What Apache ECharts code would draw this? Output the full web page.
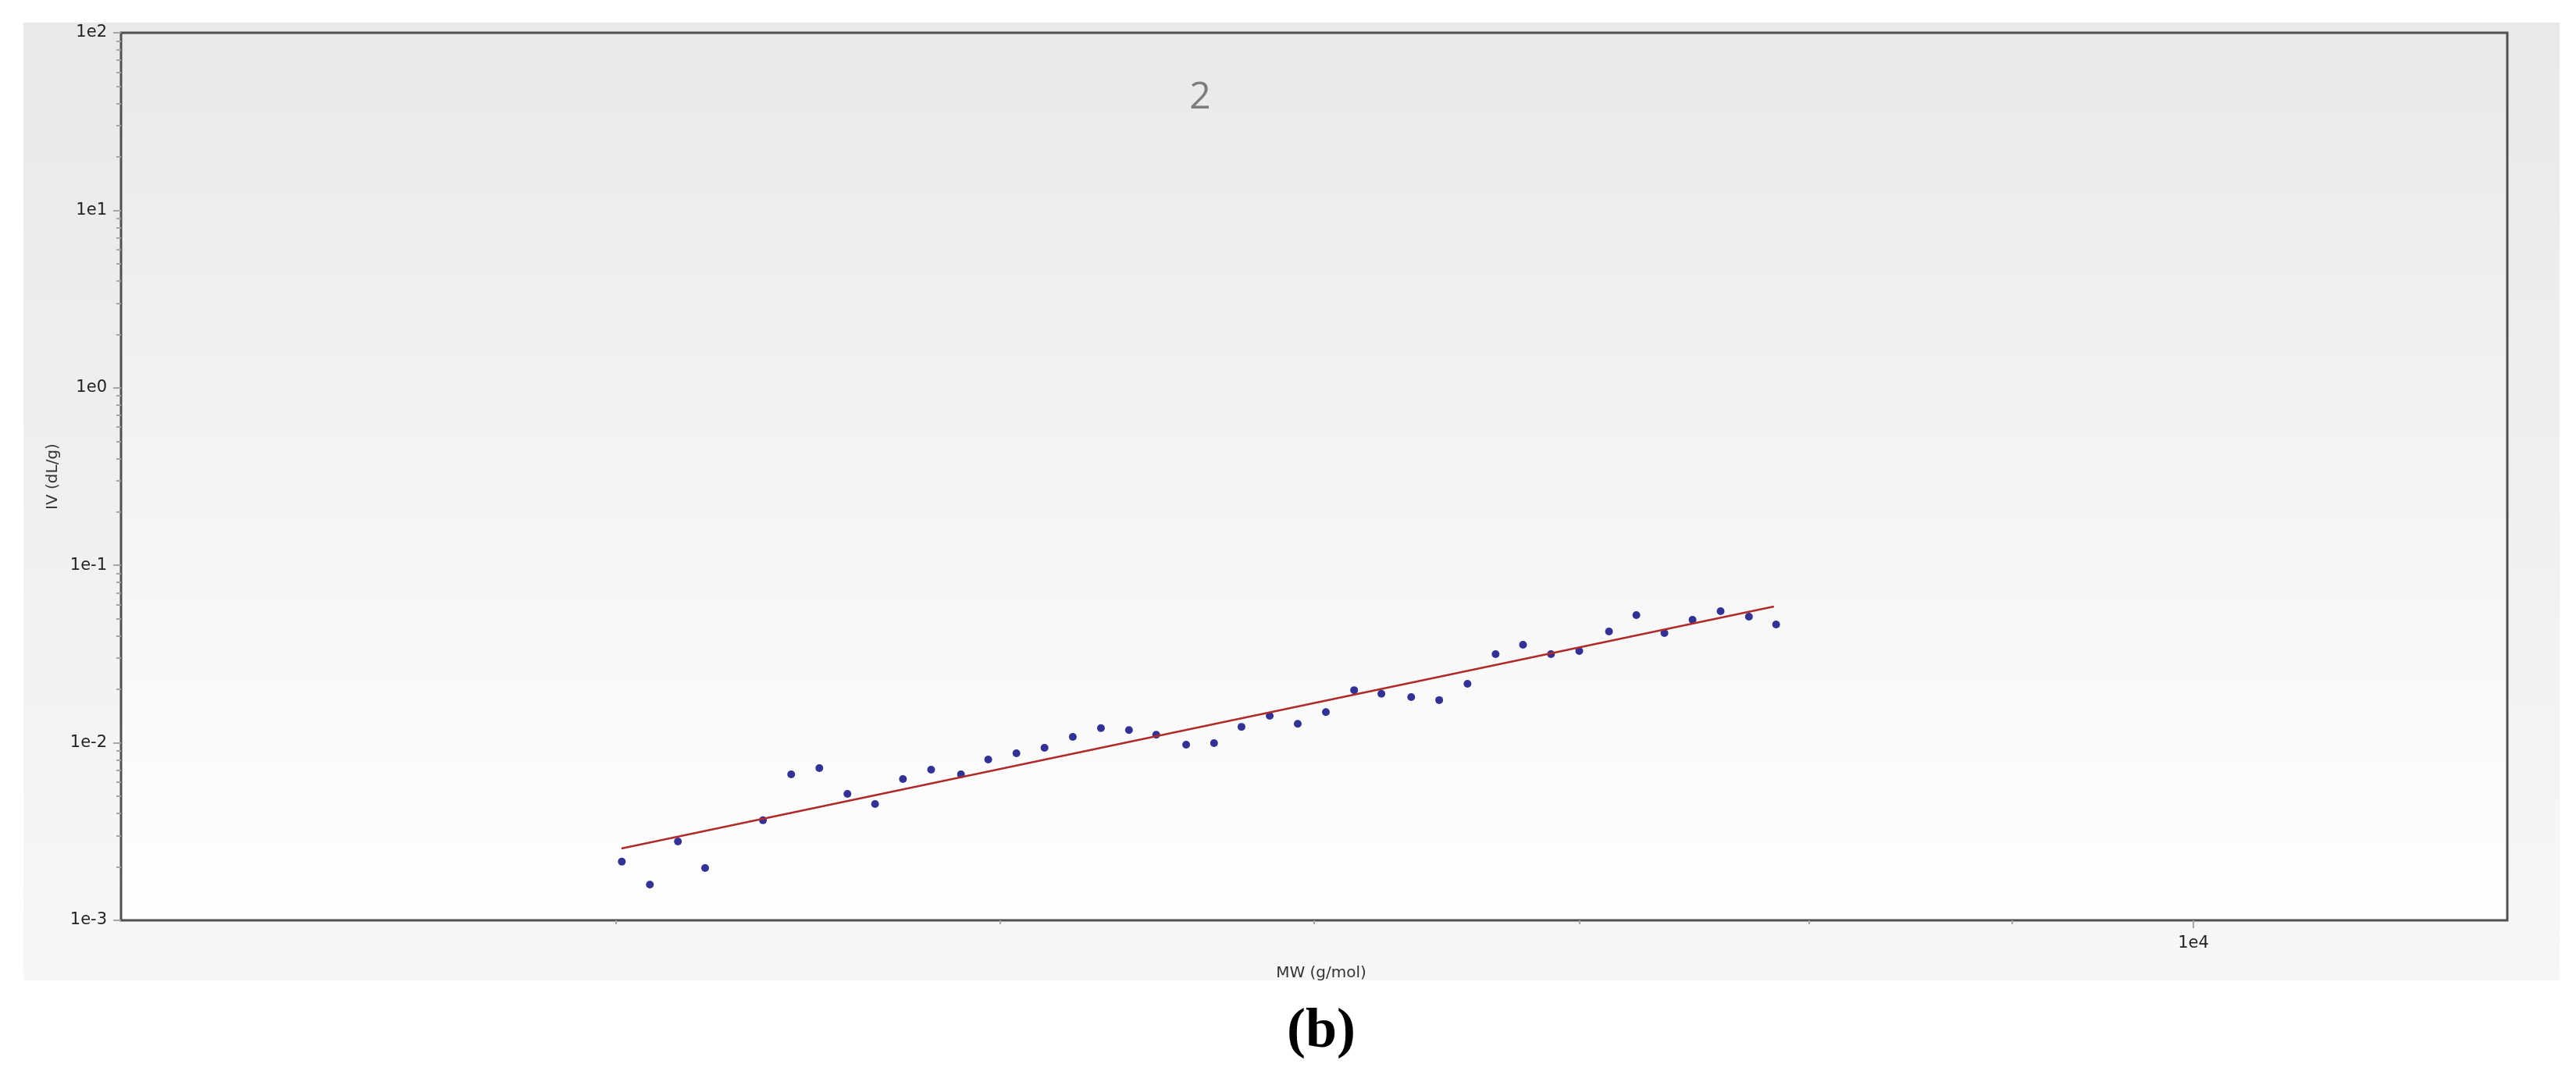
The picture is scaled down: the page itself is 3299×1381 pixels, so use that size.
<!DOCTYPE html>
<html><head><meta charset="utf-8">
<script src="https://cdn.jsdelivr.net/npm/echarts@6/dist/echarts.min.js"></script>
<style>html,body{margin:0;padding:0;background:#fff}#c{width:3299px;height:1381px}</style>
</head><body><div id="c"></div><script>
// Molecular weight (g/mol) of each slice
const mw = [4013, 4079, 4146, 4212, 4356, 4428, 4501, 4575, 4649, 4725,
            4803, 4887, 4965, 5047, 5130, 5215, 5301, 5388, 5474, 5570,
            5661, 5752, 5847, 5943, 6041, 6141, 6239, 6348, 6452, 6559,
            6667, 6774, 6885, 6999, 7121, 7235, 7354, 7475, 7598, 7724, 7847];
// Intrinsic viscosity (dL/g) of each slice
const iv = [0.00214, 0.00159, 0.00278, 0.00197, 0.00366, 0.00664, 0.00720, 0.00516, 0.00452, 0.00625,
            0.00706, 0.00664, 0.00805, 0.00873, 0.00937, 0.0108, 0.0121, 0.0118, 0.0111, 0.00976,
            0.00996, 0.0123, 0.0142, 0.0128, 0.0149, 0.0198, 0.0189, 0.0181, 0.0174, 0.0215,
            0.0316, 0.0357, 0.0316, 0.0329, 0.0424, 0.0524, 0.0415, 0.0493, 0.0551, 0.0514, 0.0464];
// Mark-Houwink fit line end points
const fitMW = [4012, 7837];
const fitIV = [0.00254, 0.0586];
// Axis ticks
const xMajorTicks = [10000];
const xMinorTicks = [4000, 5000, 6000, 7000, 8000, 9000];
const yMajorTicks = [0.001, 0.01, 0.1, 1, 10, 100];
const yMinorTicks = [];
yMajorTicks.slice(0, -1).forEach(d => { for (let m = 2; m <= 9; m++) yMinorTicks.push(+(d * m).toPrecision(3)); });

const fmtExp = v => '1e' + Math.round(Math.log10(v));
const tickGrey = '#a6a6a6';
const labelFont = { fontFamily: 'DejaVu Sans', fontSize: 21, color: '#222' };
const nameFont = { fontFamily: 'DejaVu Sans', fontSize: 20, color: '#333' };

const chart = echarts.init(document.getElementById('c'));
chart.setOption({
  backgroundColor: '#ffffff',
  animation: false,
  graphic: [
    { type: 'rect', z: -100, silent: true,
      shape: { x: 30, y: 29, width: 3248, height: 1227 },
      style: { fill: new echarts.graphic.LinearGradient(0, 0, 0, 1, [
        { offset: 0, color: '#e9e9e9' }, { offset: 1, color: '#f7f7f7' }]) } },
    { type: 'text', x: 1537, y: 125, silent: true,
      style: { text: '2', align: 'center', verticalAlign: 'middle',
               font: '48px "Open Sans"', fill: '#7c7c7c' } },
    { type: 'text', x: 1692, y: 1322, silent: true,
      style: { text: '(b)', align: 'center', verticalAlign: 'middle',
               font: 'bold 72px "Liberation Serif"', fill: '#000' } }
  ],
  grid: {
    left: 155, top: 42, right: 88, bottom: 202,
    show: true, borderColor: '#505050', borderWidth: 3,
    backgroundColor: new echarts.graphic.LinearGradient(0, 0, 0, 1, [
      { offset: 0, color: '#e9e9e9' }, { offset: 1, color: '#ffffff' }])
  },
  xAxis: [
    { type: 'log', logBase: 10, min: 3000, max: 12000, position: 'bottom',
      axisLine: { show: false }, splitLine: { show: false },
      axisTick: { show: true, customValues: xMajorTicks, length: 10, lineStyle: { color: tickGrey, width: 2 } },
      axisLabel: Object.assign({ customValues: xMajorTicks, formatter: fmtExp, margin: 19 }, labelFont),
      name: 'MW (g/mol)', nameLocation: 'middle', nameGap: 58,
      nameTextStyle: Object.assign({ padding: [0, 0, 0, 18] }, nameFont) },
    { type: 'log', logBase: 10, min: 3000, max: 12000, position: 'bottom',
      axisLine: { show: false }, splitLine: { show: false },
      axisTick: { show: true, customValues: xMinorTicks, length: 5, lineStyle: { color: tickGrey, width: 2 } },
      axisLabel: { show: false } }
  ],
  yAxis: [
    { type: 'log', logBase: 10, min: 0.001, max: 100, position: 'left',
      axisLine: { show: false }, splitLine: { show: false },
      axisTick: { show: true, customValues: yMajorTicks, length: 10, lineStyle: { color: tickGrey, width: 2 } },
      axisLabel: Object.assign({ customValues: yMajorTicks, formatter: fmtExp, margin: 18 }, labelFont),
      name: 'IV (dL/g)', nameLocation: 'middle', nameGap: 77, nameRotate: 90,
      nameTextStyle: nameFont },
    { type: 'log', logBase: 10, min: 0.001, max: 100, position: 'left',
      axisLine: { show: false }, splitLine: { show: false },
      axisTick: { show: true, customValues: yMinorTicks, length: 6, lineStyle: { color: tickGrey, width: 2 } },
      axisLabel: { show: false } }
  ],
  series: [
    { type: 'scatter', xAxisIndex: 0, yAxisIndex: 0, symbol: 'circle', symbolSize: 10,
      itemStyle: { color: '#00007a' },
      data: mw.map((x, i) => [x, iv[i]]) },
    { type: 'line', xAxisIndex: 0, yAxisIndex: 0, showSymbol: false, symbol: 'none',
      lineStyle: { color: '#b02a2a', width: 2.5 },
      data: fitMW.map((x, i) => [x, fitIV[i]]) }
  ]
});
</script></body></html>
